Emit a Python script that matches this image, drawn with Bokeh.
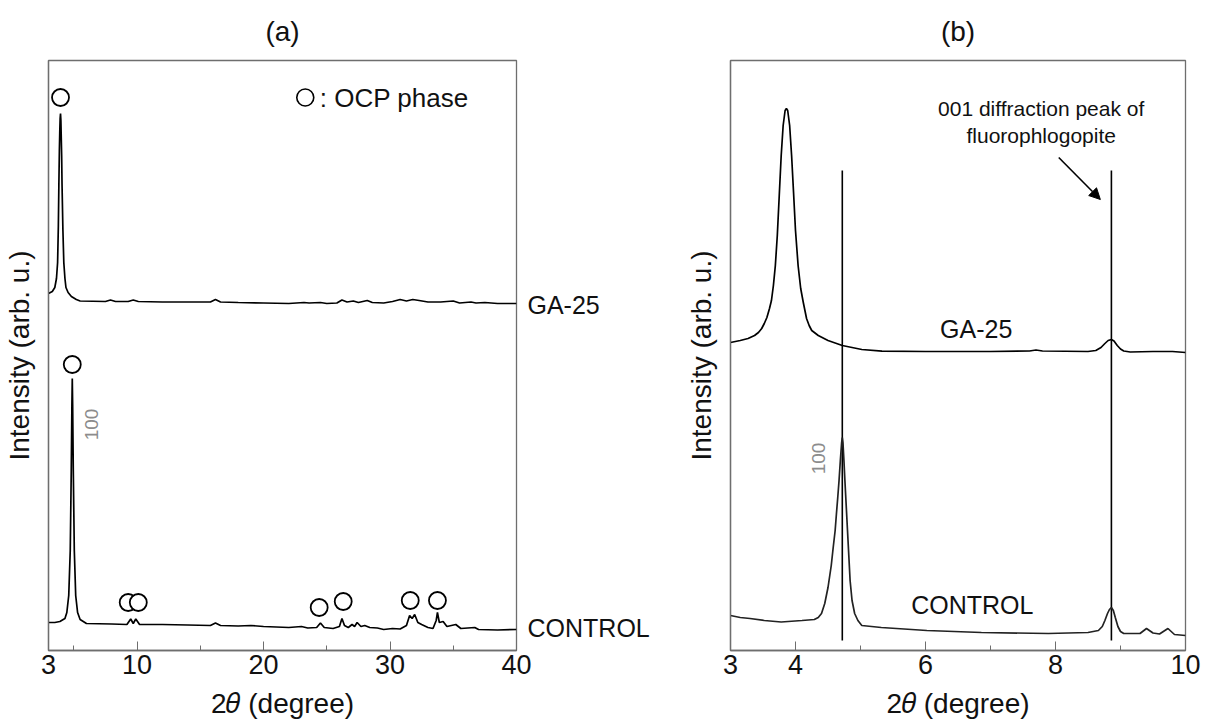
from bokeh.plotting import figure
from bokeh.layouts import row
from bokeh.models import FixedTicker, Label, Arrow, NormalHead, LinearAxis
from bokeh.embed import file_html
from bokeh.resources import INLINE

FONT = "Liberation Sans"

# ---------------- panel (a): 2theta 3-40 ----------------
a_ga25_x = [3.0, 3.3, 3.5, 3.63, 3.72, 3.78, 3.82, 3.86, 3.89, 3.92, 3.95, 3.98, 4.0, 4.04,
            4.07, 4.14, 4.21, 4.3, 4.38, 4.55, 4.81, 5.2,
            5.5, 7.5, 7.9, 8.3, 9.3, 9.7, 10.1, 12.0, 15.8, 16.2, 16.6, 18.0, 20.0, 22.0, 23.2,
            23.6, 24.5, 25.0, 25.8, 26.2, 26.6, 27.1, 27.5, 28.2, 28.6, 29.5, 30.2, 30.8, 31.3,
            31.8, 32.3, 33.0, 34.0, 35.0, 35.5, 36.4, 36.8, 37.5, 38.5, 40.0]
a_ga25_y = [357, 359, 363, 372, 388, 425, 466, 500, 518, 532, 537, 530, 518, 495,
            466, 420, 388, 372, 363, 358, 354, 351,
            349.5, 349, 350.5, 349, 349, 350.5, 349, 348.5, 348.5, 351, 348.5, 348, 347.5, 347, 348,
            347.5, 348, 347, 347.5, 350.5, 348.5, 349.5, 348, 350, 348, 347.5, 349, 351, 349.5,
            351, 350, 348.5, 348.5, 349.5, 347.5, 348.5, 347.5, 348, 347, 347]

a_ctrl_x = [3.0, 3.5, 3.9, 4.3, 4.45, 4.6, 4.72, 4.8, 4.85, 4.88, 4.91, 4.96, 5.04, 5.15, 5.3,
            5.5, 6.0,
            8.0, 9.2, 9.5, 9.7, 9.9, 10.2, 12.0, 14.0, 15.8, 16.2, 16.6, 18.0, 19.0, 20.0, 21.0,
            22.0, 23.0, 23.5, 24.2, 24.5, 24.8, 25.5, 26.0, 26.2, 26.4, 26.7, 27.0, 27.2, 27.4,
            27.7, 28.0, 28.4, 29.0, 29.5, 30.2, 30.8, 31.3, 31.55, 31.75, 31.95, 32.2, 32.5, 33.0,
            33.4, 33.65, 33.75, 33.9, 34.2, 34.5, 35.2, 35.6, 36.7, 37.0, 38.5, 40.0]
a_ctrl_y = [28, 28, 29, 32, 38, 55, 100, 180, 245, 272, 245, 180, 100, 55, 38,
            31, 27,
            26.5, 26, 31.5, 27, 31.5, 26, 26, 25.5, 25, 27.5, 25, 24.5, 25, 24, 23.5,
            23, 24, 22.5, 23, 27.5, 23, 22, 24, 32, 25, 23, 26, 24, 28,
            24, 25, 23, 22.5, 21, 22, 21.5, 25, 35, 32, 36, 28, 26, 23,
            22, 30, 38, 28, 29, 24, 26, 22, 23, 21, 20.5, 21]

a_circle_x = [3.95, 4.88, 9.3, 10.1, 24.4, 26.3, 31.6, 33.75]
a_circle_y = [553, 286, 48, 48, 43, 49, 50, 50]
a_legend_x = [23.3]
a_legend_y = [553]

a_series_names = ["GA-25", "CONTROL"]
a_series_label_y = [346, 23]

a_xticks = [3, 10, 20, 30, 40]
a_xminor = [5, 15, 25, 35]

# ---------------- panel (b): 2theta 3-10 ----------------
b_ga25_x = [3.0, 3.15, 3.27, 3.37, 3.43, 3.48, 3.52, 3.56, 3.6, 3.63, 3.66, 3.69, 3.72, 3.75,
            3.78, 3.81, 3.84, 3.86, 3.88, 3.91, 3.94, 3.97, 4.0, 4.04, 4.08, 4.12, 4.17, 4.21,
            4.25, 4.35, 4.5, 4.72, 5.02, 5.33, 6.0, 7.0, 7.6, 7.7, 7.8, 8.5, 8.62, 8.7, 8.76,
            8.81, 8.86, 8.9, 8.95, 9.0, 9.05, 9.15, 9.5, 9.8, 10.0]
b_ga25_y = [308, 310, 312, 315, 318, 322, 327, 333, 342, 350, 365, 385, 415, 455,
            495, 525, 540, 542, 540, 525, 495, 458, 420, 385, 362, 348, 332, 325,
            320, 315, 310, 305, 301, 299.3, 299, 299, 299.5, 300.5, 299.5, 299, 300, 303, 307,
            310, 311, 309.5, 305, 301.5, 299.5, 298.5, 299, 299, 298]

b_ctrl_x = [3.0, 3.15, 3.3, 3.52, 3.78, 4.1, 4.29, 4.35, 4.4, 4.45, 4.5, 4.55, 4.58, 4.61,
            4.63, 4.65, 4.67, 4.69, 4.71, 4.72, 4.73, 4.745, 4.76, 4.78, 4.8, 4.82, 4.84, 4.87,
            4.91, 4.96, 5.02, 5.32, 6.02, 6.86, 7.89, 8.5, 8.66, 8.72, 8.76, 8.8, 8.83, 8.86,
            8.89, 8.92, 8.96, 9.0, 9.05, 9.17, 9.3, 9.4, 9.5, 9.6, 9.73, 9.83, 10.0]
b_ctrl_y = [35, 33, 32, 30, 28.5, 30, 31, 33, 37, 47, 63, 85, 103, 120,
            137, 153, 170, 190, 208, 213, 208, 190, 170, 145, 120, 95, 70, 50,
            37, 30, 25, 23, 20, 18, 17, 18, 20, 24, 30, 37, 41, 43,
            40, 33, 24, 19, 17, 17, 17, 22, 17.5, 16.5, 22, 16, 15]

b_marker_x = [4.72, 8.86]
b_marker_y0 = [10, 10]
b_marker_y1 = [480, 480]

b_xticks = [3, 4, 6, 8, 10]
b_xminor = [5, 7, 9]

AXIS_COLOR = "#6e6e6e"
INK = "#111111"


def text(p, x, y, t, size="25px", color=INK, align="left", angle=0):
    p.add_layout(Label(x=x, y=y, text=t, text_font=FONT, text_font_size=size,
                       text_color=color, text_align=align, text_baseline="middle",
                       angle=angle, angle_units="deg"))


def make_fig(title, xr, xticks, xminor, fw, bl, br):
    p = figure(frame_width=fw, frame_height=590, x_range=xr, y_range=(0, 590),
               output_backend="svg", toolbar_location=None,
               min_border_left=bl, min_border_right=br, min_border_top=60, min_border_bottom=40)
    p.background_fill_color = "white"
    p.border_fill_color = "white"
    p.outline_line_color = AXIS_COLOR
    p.outline_line_width = 1.3
    p.xgrid.visible = False
    p.ygrid.visible = False
    p.title.text = title
    p.title.align = "center"
    p.title.text_font = FONT
    p.title.text_font_size = "28px"
    p.title.text_font_style = "normal"
    p.title.text_color = INK
    p.title.standoff = 27

    xa = p.xaxis[0]
    xa.ticker = FixedTicker(ticks=xticks, minor_ticks=xminor)
    xa.axis_line_color = AXIS_COLOR
    xa.axis_line_width = 1.3
    xa.major_tick_line_color = AXIS_COLOR
    xa.minor_tick_line_color = AXIS_COLOR
    xa.major_tick_in = 9
    xa.major_tick_out = 0
    xa.minor_tick_in = 5
    xa.minor_tick_out = 0
    xa.major_label_text_font = FONT
    xa.major_label_text_font_size = "27px"
    xa.major_label_text_color = INK
    xa.major_label_standoff = 4
    xa.axis_label = "2\U0001D703 (degree)"
    xa.axis_label_text_font = FONT
    xa.axis_label_text_font_size = "28px"
    xa.axis_label_text_font_style = "normal"
    xa.axis_label_text_color = INK
    xa.axis_label_standoff = 11

    ya = p.yaxis[0]
    ya.ticker = FixedTicker(ticks=[])
    ya.axis_line_color = AXIS_COLOR
    ya.axis_line_width = 1.3
    ya.major_tick_line_color = None
    ya.minor_tick_line_color = None
    ya.axis_label = "Intensity (arb. u.)"
    ya.axis_label_text_font = FONT
    ya.axis_label_text_font_size = "28px"
    ya.axis_label_text_font_style = "normal"
    ya.axis_label_text_color = INK
    ya.axis_label_standoff = 14
    return p


# ---------- figure (a) ----------
pa = make_fig("(a)", (3, 40), a_xticks, a_xminor, 468, 47, 165)
pa.line(a_ga25_x, a_ga25_y, line_color="black", line_width=1.7)
pa.line(a_ctrl_x, a_ctrl_y, line_color="black", line_width=1.7)
pa.scatter(a_circle_x, a_circle_y, marker="circle", size=17, fill_color="white",
           line_color="black", line_width=1.8)
pa.scatter(a_legend_x, a_legend_y, marker="circle", size=17, fill_color="white",
           line_color="black", line_width=1.6)
text(pa, 24.45, 553, ": OCP phase", size="26px")
text(pa, 6.4, 226, "100", size="19px", color="#8c8c8c", align="center", angle=90)

# series names outside the frame, on the right, through a label-only axis
name_axis = LinearAxis(ticker=FixedTicker(ticks=a_series_label_y),
                       major_label_overrides={v: n for v, n in zip(a_series_label_y, a_series_names)},
                       axis_line_color=None, major_tick_line_color=None,
                       minor_tick_line_color=None, major_label_standoff=5,
                       major_label_text_font=FONT, major_label_text_font_size="25px",
                       major_label_text_color=INK)
pa.add_layout(name_axis, "right")

# ---------- figure (b) ----------
pb = make_fig("(b)", (3, 10), b_xticks, b_xminor, 455, 49, 33)
pb.segment(b_marker_x, b_marker_y0, b_marker_x, b_marker_y1, line_color="black", line_width=1.6)
pb.line(b_ga25_x, b_ga25_y, line_color="black", line_width=1.7)
pb.line(b_ctrl_x, b_ctrl_y, line_color="#222222", line_width=1.7)
text(pb, 6.78, 322, "GA-25", align="center")
text(pb, 6.72, 46, "CONTROL", align="center")
text(pb, 4.35, 192, "100", size="19px", color="#8c8c8c", align="center", angle=90)
text(pb, 7.78, 542, "001 diffraction peak of", size="21px", align="center")
text(pb, 7.78, 515, "fluorophlogopite", size="21px", align="center")
pb.add_layout(Arrow(end=NormalHead(size=11, fill_color="black", line_color="black"),
                    x_start=8.05, y_start=493, x_end=8.69, y_end=451,
                    line_color="black", line_width=1.6))

layout = row(pa, pb)
open("out.html", "w").write(file_html(layout, INLINE))
